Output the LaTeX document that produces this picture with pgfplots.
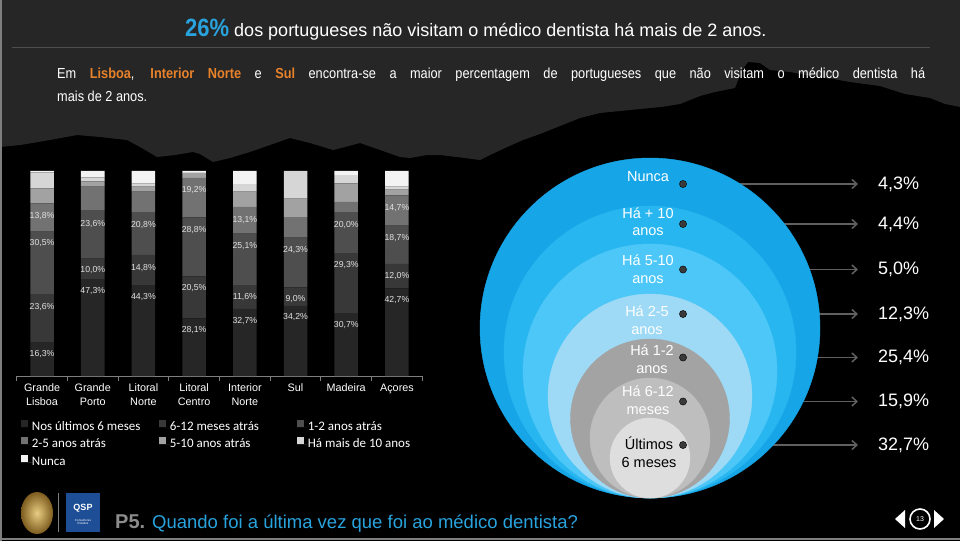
\documentclass[border=0pt]{standalone}
\usepackage{fontspec}
\setmainfont{Liberation Sans}
\newfontfamily\narrowfont[FakeStretch=0.88]{Liberation Sans}
\newfontfamily\calib{Carlito}
\usepackage{pgfplots}
\pgfplotsset{compat=1.18}
\usepackage{pgfplotstable}
\usetikzlibrary{arrows.meta}

\definecolor{hdr}{RGB}{38,38,38}
\definecolor{blueT}{RGB}{41,163,221}
\definecolor{orangeT}{RGB}{232,130,42}
\definecolor{s1}{RGB}{38,38,38}
\definecolor{s2}{RGB}{56,56,56}
\definecolor{s3}{RGB}{78,78,78}
\definecolor{s4}{RGB}{114,114,114}
\definecolor{s5}{RGB}{162,162,162}
\definecolor{s6}{RGB}{214,214,214}
\definecolor{s7}{RGB}{243,243,243}
\definecolor{axgray}{RGB}{127,127,127}
\definecolor{sepgray}{RGB}{78,78,78}
\definecolor{lbl}{RGB}{225,225,225}
\definecolor{arrowgray}{RGB}{96,96,96}
\definecolor{dotgray}{RGB}{58,58,58}
\definecolor{goldin}{RGB}{232,205,130}
\definecolor{goldout}{RGB}{125,92,30}
\definecolor{qspblue}{RGB}{30,78,150}
\definecolor{pgray}{RGB}{140,140,140}

% stacked bars: percentages per region
\pgfplotstableread{
x u6 m612 a12 a25 a510 a10 nunca
0 16.3 23.6 30.5 13.8 7.3 7.8 0.7
1 47.3 10.0 23.6 11.5 2.5 2.0 3.1
2 44.3 14.8 20.8 10.0 2.5 1.5 6.1
3 28.1 20.5 28.8 19.2 2.4 0.5 0.5
4 32.7 11.6 25.1 13.1 7.5 3.6 6.4
5 34.2 9.0 24.3 10.0 9.0 13.5 0.0
6 30.7 29.3 20.0 5.0 9.0 4.0 2.0
7 42.7 12.0 18.7 14.7 2.8 1.5 7.6
}\bardata

% bar value labels (slide pixel positions)
\pgfplotstableread{
x y lab
42.05 216 13,8
42.05 243 30,5
42.05 307 23,6
42.05 354 16,3
92.75 224 23,6
92.75 270 10,0
92.75 291 47,3
143.45 225 20,8
143.45 268 14,8
143.45 297 44,3
194.15 190 19,2
194.15 230 28,8
194.15 288 20,5
194.15 330 28,1
244.85 220 13,1
244.85 246 25,1
244.85 297 11,6
244.85 321 32,7
295.55 250 24,3
295.55 299 9,0
295.55 317 34,2
346.25 225 20,0
346.25 265 29,3
346.25 325 30,7
396.95 208 14,7
396.95 238 18,7
396.95 276 12,0
396.95 300 42,7
}\labdata

% nested circles (centre, radius)
\pgfplotstableread{
x y r idx
650 328 170 0
650 352 146 1
650 371 127 2
650 396 102 3
650 418.5 79.5 4
650 438 60 5
650 458 40 6
}\circdata

% national totals
\pgfplotstableread{
x y vx lab
683 184 878 4,3
683 224 878 4,4
683 269.5 878 5,0
683 314 878 12,3
683 357.5 878 25,4
683 401.5 878 15,9
683 445 878 32,7
}\dotdata

\begin{document}
\begin{tikzpicture}
\fill[black] (0,0) rectangle (960pt,541pt);

% ---------- background / texts ----------
\begin{axis}[at={(0pt,0pt)}, anchor=south west, scale only axis,
  width=960pt, height=541pt, xmin=0, xmax=960, ymin=0, ymax=541,
  y dir=reverse, axis lines=none, clip=false]
\fill[hdr] (0,0) -- (960,0) -- (960,107) -- (945,104) -- (930,98) -- (905,94) -- (880,86)
  -- (850,82) -- (833,79) -- (810,76) -- (790,72) -- (770,70) -- (760,63) -- (748,62)
  -- (742,70) -- (735,88) -- (715,92) -- (700,96) -- (680,104) -- (661,107) -- (640,109)
  -- (620,111) -- (600,113) -- (580,118) -- (560,126) -- (540,134) -- (523,140)
  -- (505,148) -- (490,155) -- (480,160) -- (465,158) -- (440,155) -- (427,155)
  -- (410,158) -- (400,157) -- (380,150) -- (360,143) -- (345,147) -- (333,150)
  -- (310,143) -- (290,138) -- (270,145) -- (250,152) -- (230,158) -- (213,162)
  -- (200,154) -- (193,152) -- (175,155) -- (157,157) -- (140,147) -- (127,140)
  -- (100,137) -- (77,135) -- (50,140) -- (20,145) -- (0,147) -- cycle;
\draw[sepgray, line width=1pt] (12,47) -- (930,47);
\node[anchor=base west, inner sep=0pt, text=white, font=\fontsize{18}{20}\selectfont]
  at (185,36) {{\color{blueT}\fontsize{25}{25}\selectfont\narrowfont\bfseries 26\%} dos portugueses não visitam o médico dentista há mais de 2 anos.};
\node[anchor=base west, inner sep=0pt, text=white, font=\narrowfont\fontsize{14.5}{17}\selectfont]
  at (57,78) {\makebox[868pt][s]{Em {\bfseries\color{orangeT}Lisboa}, {\bfseries\color{orangeT}Interior Norte} e {\bfseries\color{orangeT}Sul} encontra-se a maior percentagem de portugueses que não visitam o médico dentista há}};
\node[anchor=base west, inner sep=0pt, text=white, font=\narrowfont\fontsize{14.5}{17}\selectfont]
  at (57,101) {mais de 2 anos.};
% frame lines
\draw[axgray, line width=1.5pt] (0.75,0) -- (0.75,541);
\draw[axgray, line width=2pt] (0,539) -- (960,539);
% footer
\shade[inner color=goldin, outer color=goldout]
  (37,513) ellipse [x radius=16pt, y radius=21pt];
\draw[axgray, line width=1pt] (58,493) -- (58,532);
\fill[qspblue] (66,493) rectangle (100,532);
\node[text=white, font=\bfseries\fontsize{9}{9}\selectfont] at (83,508) {QSP};
\node[text=white, font=\fontsize{3}{3.5}\selectfont, align=center] at (83,522) {Consultores\\Estudos};
\node[anchor=base west, inner sep=0pt, text=pgray, font=\bfseries\fontsize{20}{22}\selectfont]
  at (115,528) {P5.};
\node[anchor=base west, inner sep=0pt, text=blueT, font=\fontsize{18.5}{22}\selectfont]
  at (152,528) {Quando foi a última vez que foi ao médico dentista?};
\fill[white] (905,510) -- (905,528) -- (895,519) -- cycle;
\fill[white] (934,510) -- (934,528) -- (944,519) -- cycle;
\draw[white, line width=1.6pt] (920,519) circle [radius=10pt];
\node[text=white, font=\fontsize{7}{8}\selectfont] at (920,519) {13};
\end{axis}

% ---------- stacked bars ----------
\begin{axis}[at={(16.7pt,165pt)}, anchor=south west, scale only axis,
  width=405.6pt, height=205pt,
  ybar stacked, bar width=23.5pt,
  xmin=-0.5, xmax=7.5, ymin=0, ymax=100, enlargelimits=false,
  axis x line*=bottom, axis y line=none,
  x axis line style={-, draw=axgray, line width=0.9pt},
  xtick={-0.5,0.5,...,7.5}, xticklabels={},
  tick align=outside, major tick length=5pt,
  xtick style={draw=axgray, line width=0.9pt},
  extra x ticks={0,1,...,7},
  extra x tick labels={Grande\\Lisboa,Grande\\Porto,Litoral\\Norte,Litoral\\Centro,Interior\\Norte,Sul,Madeira,Açores},
  extra x tick style={major tick length=0pt, tick style={draw=none}},
  x tick label style={align=center, text=white, font=\fontsize{10.8}{14}\selectfont, yshift=-4.5pt},
  legend columns=3,
  legend style={at={(0,0)}, anchor=north west, xshift=4pt, yshift=-43.5pt,
    draw=none, fill=none, inner sep=0pt, text=white,
    font=\calib\fontsize{13}{14}\selectfont,
    nodes={inner sep=0pt, text height=9pt, text depth=3pt},
    row sep=4.2pt, column sep=0pt},
  legend image code/.code={\fill[#1, draw=none] (0pt,0.3pt) rectangle (7pt,7.3pt); \path (0pt,0pt) -- (11pt,0pt);},
]
\addplot[fill=s1, draw=none] table[x=x, y=u6] {\bardata};
\addlegendentry{\makebox[127pt][l]{Nos últimos 6 meses}}
\addplot[fill=s2, draw=none] table[x=x, y=m612] {\bardata};
\addlegendentry{\makebox[127pt][l]{6-12 meses atrás}}
\addplot[fill=s3, draw=none] table[x=x, y=a12] {\bardata};
\addlegendentry{\makebox[127pt][l]{1-2 anos atrás}}
\addplot[fill=s4, draw=none] table[x=x, y=a25] {\bardata};
\addlegendentry{\makebox[127pt][l]{2-5 anos atrás}}
\addplot[fill=s5, draw=none] table[x=x, y=a510] {\bardata};
\addlegendentry{\makebox[127pt][l]{5-10 anos atrás}}
\addplot[fill=s6, draw=none] table[x=x, y=a10] {\bardata};
\addlegendentry{\makebox[127pt][l]{Há mais de 10 anos}}
\addplot[fill=s7, draw=none] table[x=x, y=nunca] {\bardata};
\addlegendentry{\makebox[127pt][l]{Nunca}}
\end{axis}

% ---------- overlay: bar labels, circles, arrows ----------
\begin{axis}[at={(0pt,0pt)}, anchor=south west, scale only axis,
  width=960pt, height=541pt, xmin=0, xmax=960, ymin=0, ymax=541,
  y dir=reverse, axis lines=none, clip=false,
  colormap={circ}{rgb255=(22,166,232) rgb255=(40,182,240) rgb255=(76,199,247) rgb255=(158,217,245) rgb255=(163,163,163) rgb255=(190,190,190) rgb255=(222,222,222)},
  point meta min=0, point meta max=6]
\addplot[draw=none, mark=none, nodes near coords={\pgfplotspointmeta\%}, point meta=explicit symbolic,
  every node near coord/.append style={anchor=center, inner sep=0pt, text=lbl, font=\fontsize{8.7}{10}\selectfont}]
  table[x=x, y=y, meta=lab] {\labdata};
\addplot[scatter, only marks, mark=*, point meta=\thisrow{idx},
  scatter/use mapped color={draw=mapped color, fill=mapped color},
  visualization depends on={\thisrow{r} \as \rad},
  scatter/@pre marker code/.append style={/tikz/mark size=\rad}]
  table[x=x, y=y] {\circdata};
\addplot[quiver={u=175, v=0}, -{Straight Barb[length=5pt, width=9pt]}, draw=arrowgray, line width=1.5pt]
  table[x=x, y=y] {\dotdata};
\addplot[only marks, mark=*, mark size=3.6pt, mark options={fill=dotgray, draw=none}]
  table[x=x, y=y] {\dotdata};
\addplot[draw=none, mark=none, nodes near coords={\pgfplotspointmeta\%}, point meta=explicit symbolic,
  every node near coord/.append style={anchor=west, inner sep=0pt, text=white, font=\fontsize{18}{20}\selectfont}]
  table[x=vx, y=y, meta=lab] {\dotdata};
\end{axis}

% ---------- circle captions on top ----------
\begin{axis}[at={(0pt,0pt)}, anchor=south west, scale only axis,
  width=960pt, height=541pt, xmin=0, xmax=960, ymin=0, ymax=541,
  y dir=reverse, axis lines=none, clip=false]
\node[text=white, font=\fontsize{14.5}{17.5}\selectfont, align=center] at (648,177) {Nunca};
\node[text=white, font=\fontsize{14.5}{17.5}\selectfont, align=center] at (648,221.5) {Há + 10\\anos};
\node[text=white, font=\fontsize{14.5}{17.5}\selectfont, align=center] at (648,269) {Há 5-10\\anos};
\node[text=white, font=\fontsize{14.5}{17.5}\selectfont, align=center] at (647,320) {Há 2-5\\anos};
\node[text=white, font=\fontsize{14.5}{17.5}\selectfont, align=center] at (652,359) {Há 1-2\\anos};
\node[text=white, font=\fontsize{14.5}{17.5}\selectfont, align=center] at (648,400) {Há 6-12\\meses};
\node[text=black, font=\fontsize{14.5}{17.5}\selectfont, align=center] at (649,452.5) {Últimos\\6 meses};
\end{axis}

\pgfresetboundingbox
\path[use as bounding box] (0,0) rectangle (960pt,541pt);
\end{tikzpicture}
\end{document}
